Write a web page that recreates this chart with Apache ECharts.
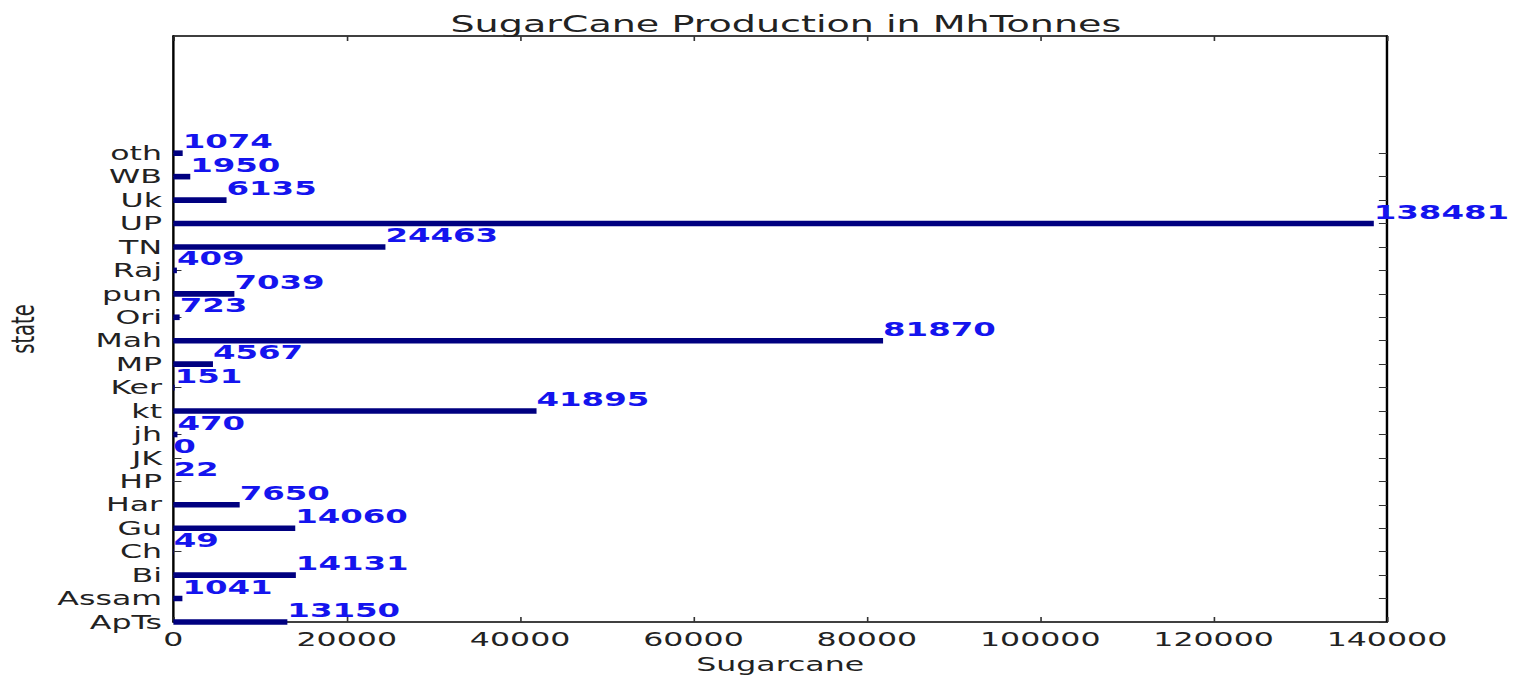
<!DOCTYPE html>
<html>
<head>
<meta charset="utf-8">
<title>SugarCane Production in MhTonnes</title>
<script src="https://cdn.jsdelivr.net/npm/echarts@6/dist/echarts.min.js"></script>
<style>
  html, body { margin: 0; padding: 0; background: #fff; overflow: hidden; }
  #wrap { width: 1515px; height: 683px; overflow: hidden; }
  /* the figure is laid out narrow and stretched horizontally to full width */
  #chart { width: 935px; height: 683px; transform: scaleX(1.6203); transform-origin: 0 0; }
</style>
</head>
<body>
<div id="wrap"><div id="chart"></div></div>
<script>
// States, bottom to top
const states = ['ApTs', 'Assam', 'Bi', 'Ch', 'Gu', 'Har', 'HP', 'JK', 'jh', 'kt', 'Ker',
                'MP', 'Mah', 'Ori', 'pun', 'Raj', 'TN', 'UP', 'Uk', 'WB', 'oth'];
// Sugarcane production per state
const production = [13150, 1041, 14131, 49, 14060, 7650, 22, 0, 470, 41895, 151,
                    4567, 81870, 723, 7039, 409, 24463, 138481, 6135, 1950, 1074];
// Axis ticks
const xTickValues = [0, 20000, 40000, 60000, 80000, 100000, 120000, 140000];
const stateTicks = states.map((s, i) => i);

const FONT = '"DejaVu Sans", "Liberation Sans", sans-serif';
const BAR_HEIGHT = 0.24;

const chart = echarts.init(document.getElementById('chart'), null, { renderer: 'svg' });

const frameLine = { show: true, onZero: false, lineStyle: { color: '#000', width: 1.5 } };
const innerTick = { show: true, inside: true, length: 5, lineStyle: { color: '#333', width: 1 } };

chart.setOption({
  animation: false,
  backgroundColor: '#fff',
  title: {
    text: 'SugarCane Production in MhTonnes',
    left: 480,
    top: 7,
    textAlign: 'center',
    textStyle: { fontFamily: FONT, fontSize: 23.5, fontWeight: 'normal', color: '#222' }
  },
  grid: { left: 107, right: 79, top: 36, bottom: 61, containLabel: false, outerBoundsMode: 'none' },
  xAxis: [
    {
      type: 'value', position: 'bottom',
      min: xTickValues[0], max: xTickValues[xTickValues.length - 1], interval: 20000,
      axisLine: frameLine,
      axisTick: innerTick,
      splitLine: { show: false },
      axisLabel: { color: '#222', fontFamily: FONT, fontSize: 19.5, margin: 7, formatter: v => String(v) },
      name: 'Sugarcane', nameLocation: 'middle', nameGap: 32,
      nameTextStyle: { color: '#222', fontFamily: FONT, fontSize: 19.5 }
    },
    {
      type: 'value', position: 'top',
      min: xTickValues[0], max: xTickValues[xTickValues.length - 1], interval: 20000,
      axisLine: frameLine,
      axisTick: innerTick,
      splitLine: { show: false },
      axisLabel: { show: false }
    }
  ],
  yAxis: [
    {
      type: 'value', position: 'left', min: 0, max: 25,
      axisLine: frameLine,
      axisTick: Object.assign({ customValues: stateTicks }, innerTick),
      splitLine: { show: false },
      axisLabel: {
        customValues: stateTicks,
        formatter: v => states[v],
        color: '#222', fontFamily: FONT, fontSize: 19.5, margin: 7
      },
      name: 'state', nameLocation: 'middle', nameRotate: 90, nameGap: 80,
      nameTextStyle: { color: '#222', fontFamily: FONT, fontSize: 19.5 }
    },
    {
      type: 'value', position: 'right', min: 0, max: 25,
      axisLine: frameLine,
      axisTick: Object.assign({ customValues: stateTicks }, innerTick),
      splitLine: { show: false },
      axisLabel: { show: false }
    }
  ],
  series: [{
    type: 'custom',
    xAxisIndex: 0,
    yAxisIndex: 0,
    clip: false,
    encode: { x: 0, y: 1 },
    data: states.map((s, i) => [production[i], i]),
    renderItem: function (params, api) {
      const v = api.value(0);
      const i = api.value(1);
      const start = api.coord([0, i]);
      const end = api.coord([v, i]);
      const h = api.size([0, BAR_HEIGHT])[1];
      return {
        type: 'group',
        children: [
          {
            type: 'rect',
            shape: { x: start[0], y: start[1] - h / 2, width: end[0] - start[0], height: h },
            style: { fill: '#000080' }
          },
          {
            type: 'text',
            x: end[0],
            y: end[1] - 12,
            style: {
              text: String(v),
              fill: '#1414ee',
              fontFamily: FONT,
              fontSize: 20,
              fontWeight: 'bold',
              align: 'left',
              verticalAlign: 'middle'
            }
          }
        ]
      };
    }
  }]
});
</script>
</body>
</html>
